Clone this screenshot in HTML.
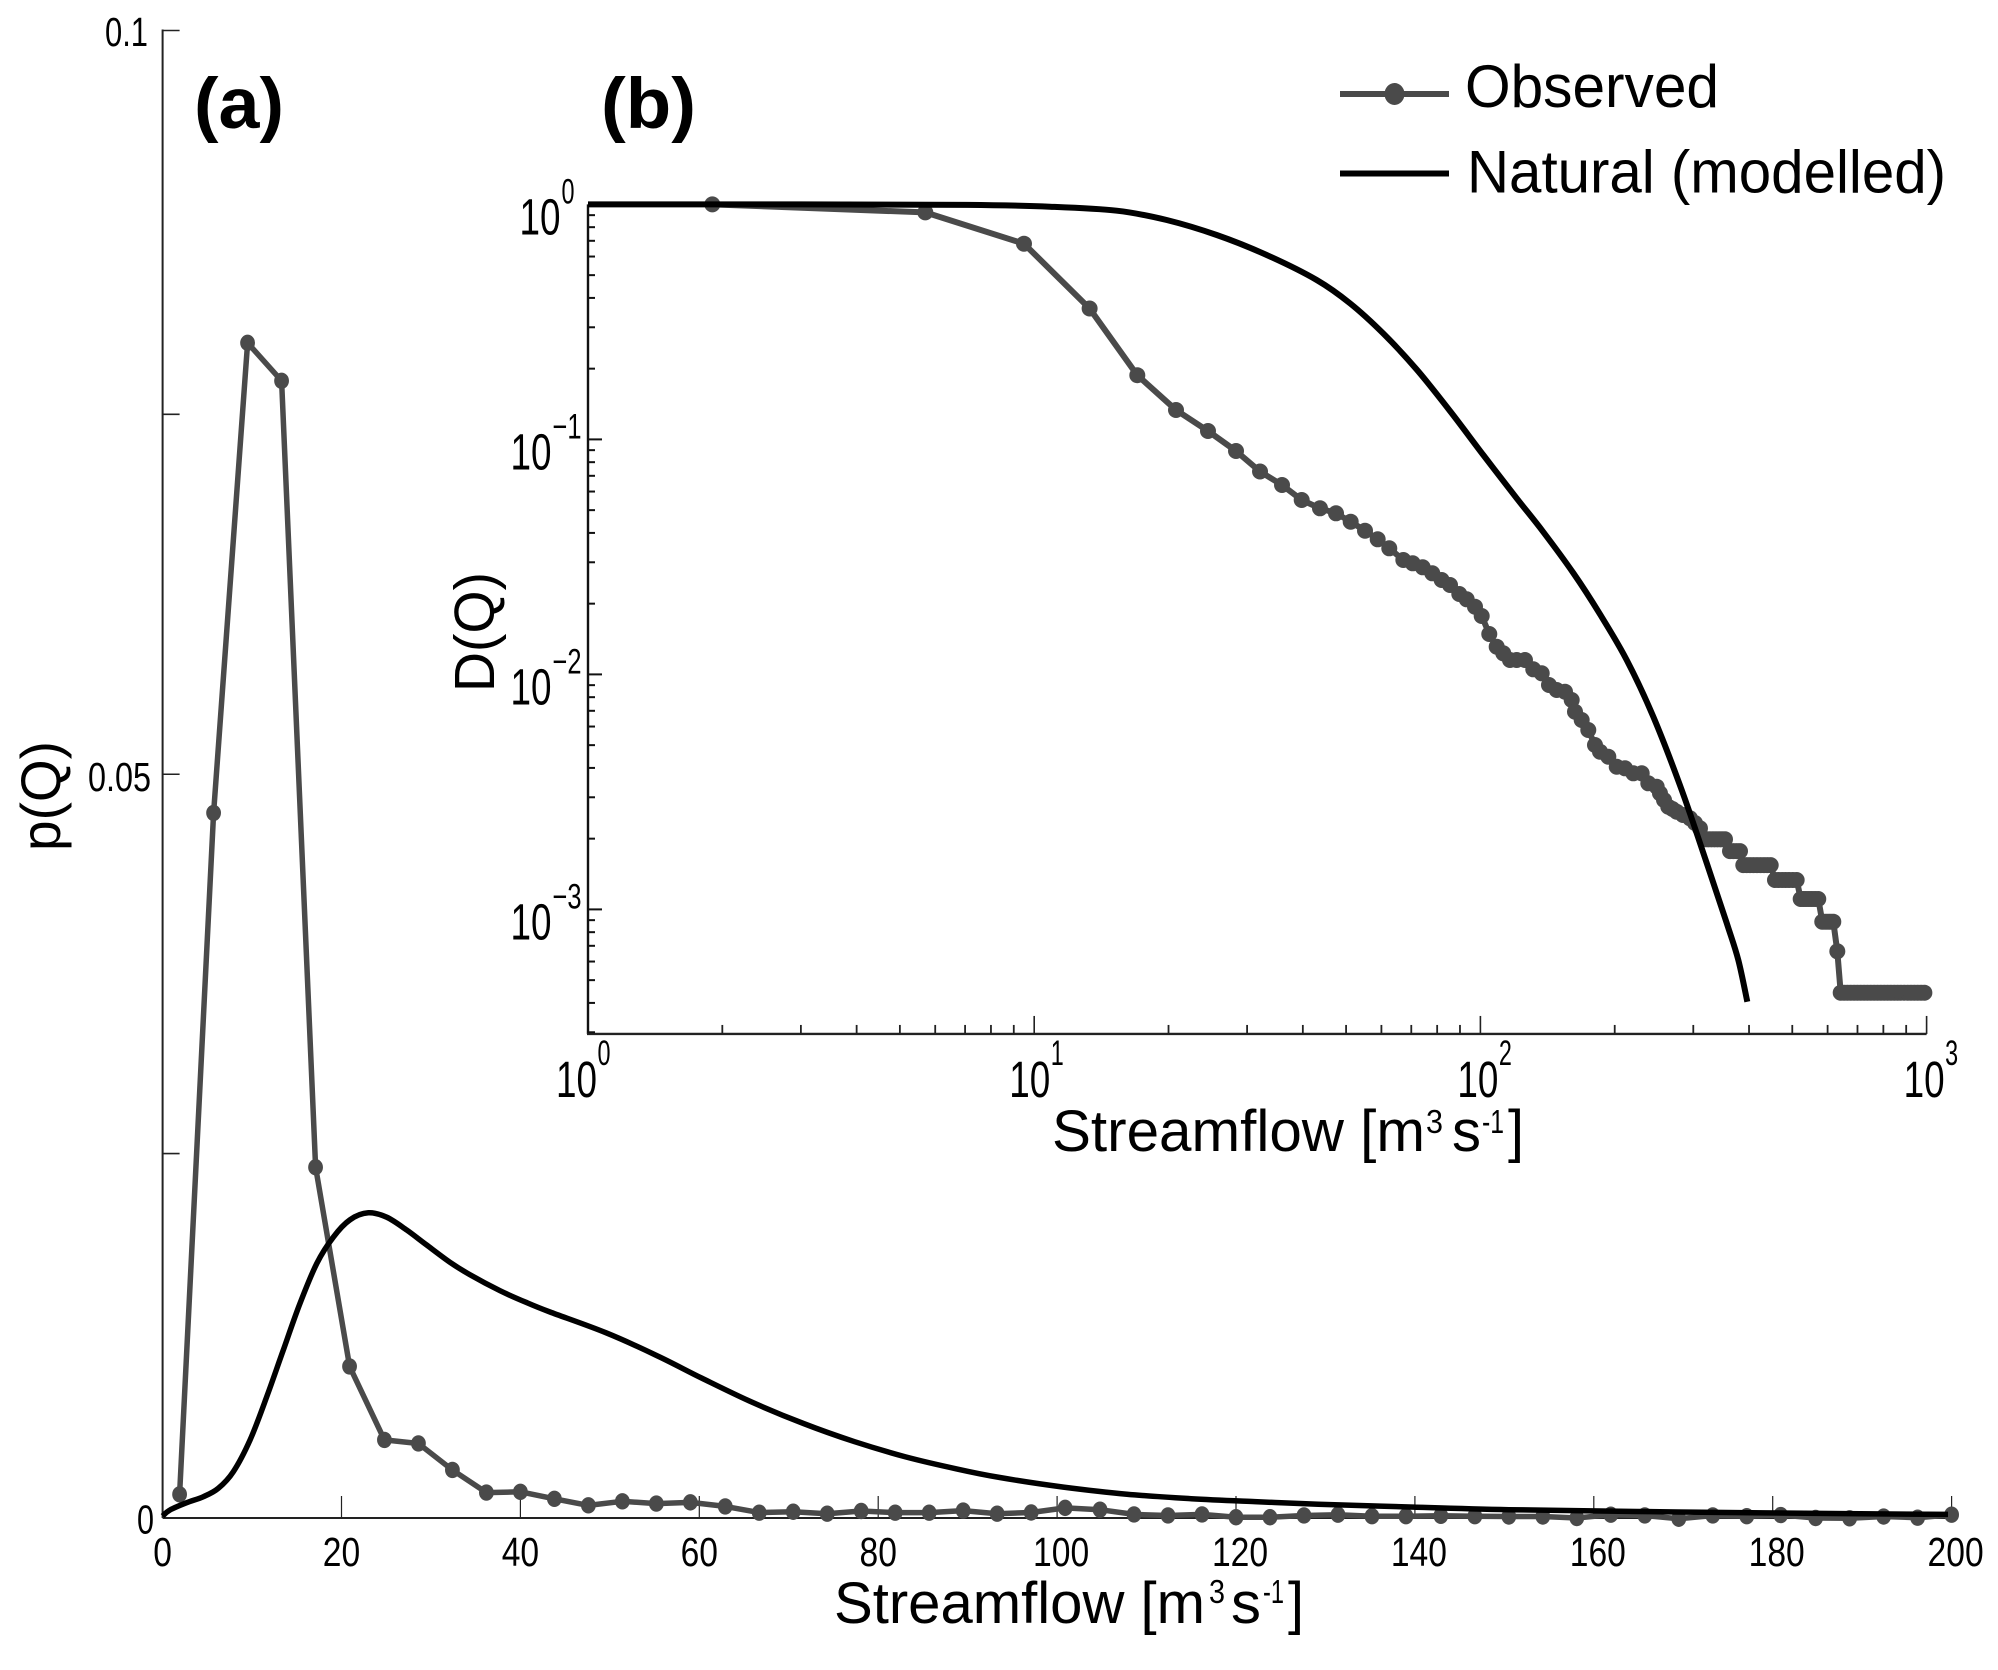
<!DOCTYPE html>
<html lang="en">
<head>
<meta charset="utf-8">
<title>Streamflow distributions</title>
<style>
  html, body { margin: 0; padding: 0; background: #fff; }
  svg { display: block; font-family: "Liberation Sans", sans-serif; fill: #000; }
  .obs-line { fill: none; stroke: #4a4a4a; stroke-linejoin: round; stroke-linecap: round; }
  .nat-line { fill: none; stroke: #000; stroke-linejoin: round; }
</style>
</head>
<body>
<svg id="chart" xmlns="http://www.w3.org/2000/svg" width="1998" height="1670" viewBox="0 0 1998 1670">
  <rect x="0" y="0" width="1998" height="1670" fill="#fff"/>

  <g id="panel-a"></g>
  <g id="panel-b"></g>

  <text x="194" y="128" font-size="71" font-weight="bold" textLength="90" lengthAdjust="spacingAndGlyphs">(a)</text>
  <text x="601" y="128" font-size="71" font-weight="bold" textLength="95" lengthAdjust="spacingAndGlyphs">(b)</text>

  <text transform="translate(60,851) rotate(-90)" font-size="56" textLength="110" lengthAdjust="spacingAndGlyphs">p(Q)</text>
  <text transform="translate(494,692) rotate(-90)" font-size="57" textLength="120" lengthAdjust="spacingAndGlyphs">D(Q)</text>

  <g>
    <text x="834" y="1623" font-size="58" textLength="371" lengthAdjust="spacingAndGlyphs">Streamflow [m</text>
    <text x="1209" y="1603" font-size="33" textLength="16" lengthAdjust="spacingAndGlyphs">3</text>
    <text x="1231" y="1623" font-size="58" textLength="30" lengthAdjust="spacingAndGlyphs">s</text>
    <text x="1263" y="1603" font-size="33" textLength="21" lengthAdjust="spacingAndGlyphs">-1</text>
    <text x="1288" y="1623" font-size="58" textLength="16" lengthAdjust="spacingAndGlyphs">]</text>
  </g>
  <g>
    <text x="1052" y="1151" font-size="58" textLength="373" lengthAdjust="spacingAndGlyphs">Streamflow [m</text>
    <text x="1426" y="1133" font-size="33" textLength="17" lengthAdjust="spacingAndGlyphs">3</text>
    <text x="1452" y="1151" font-size="58" textLength="29" lengthAdjust="spacingAndGlyphs">s</text>
    <text x="1482" y="1133" font-size="33" textLength="22" lengthAdjust="spacingAndGlyphs">-1</text>
    <text x="1508" y="1151" font-size="58" textLength="16" lengthAdjust="spacingAndGlyphs">]</text>
  </g>

  <g>
    <g>
      <line x1="1340" y1="94" x2="1449" y2="94" stroke="#4a4a4a" stroke-width="6"/>
      <ellipse cx="1394.5" cy="94" rx="10" ry="11" fill="#4a4a4a"/>
      <text x="1465" y="107" font-size="60" textLength="254" lengthAdjust="spacingAndGlyphs">Observed</text>
    </g>
    <g>
      <line x1="1340" y1="173.5" x2="1449" y2="173.5" stroke="#000" stroke-width="6"/>
      <text x="1467" y="192.5" font-size="60" textLength="479" lengthAdjust="spacingAndGlyphs">Natural (modelled)</text>
    </g>
  </g>
</svg>

<script>
// ---- Panel (a): probability density ----
const aXTicks = [0, 20, 40, 60, 80, 100, 120, 140, 160, 180, 200];
const aYTicks = [0, 0.0245, 0.05, 0.0742, 0.1];
const aYTickLabels = ["0", "", "0.05", "", "0.1"];
const aObservedQ = [1.9,5.7,9.5,13.3,17.1,20.9,24.8,28.6,32.4,36.2,40,43.8,47.6,51.4,55.2,59,62.9,66.7,70.5,74.3,78.1,81.9,85.7,89.5,93.3,97.1,100.9,104.8,108.6,112.4,116.2,120,123.8,127.6,131.4,135.2,139,142.9,146.7,150.5,154.3,158.1,161.9,165.7,169.5,173.3,177.1,180.9,184.8,188.6,192.4,196.2,200];
const aObservedP = [0.00159,0.0474,0.0790,0.07645,0.02358,0.01019,0.00525,0.00501,0.00323,0.00171,0.00176,0.00129,0.00085,0.00112,0.00097,0.00105,0.00078,0.00036,0.00042,0.00029,0.00047,0.00036,0.00036,0.0005,0.00029,0.00037,0.00068,0.00056,0.00024,0.00017,0.00024,0.00005,0.00005,0.00017,0.00022,0.00012,0.00012,0.00015,0.00012,0.0001,0.0001,0,0.00022,0.00017,-0.00005,0.00017,0.00012,0.0002,0,-0.00002,0.0001,0.00002,0.00022];
const aNaturalQ = [0,0.83,2.69,4.55,6.22,7.9,9.77,11.64,13.49,15.36,17.23,19.08,20.95,23,25.05,27.29,29.52,32.12,34.37,37.72,40.7,43.31,49.55,55.25,60.25,65.95,71.65,77.36,83.06,88.76,93.6,100.7,107.8,115,122.1,129.2,139.9,150.5,164.8,179,199.6];
const aNaturalP = [0.00013,0.00054,0.00103,0.00143,0.00199,0.00311,0.00524,0.00815,0.01129,0.01443,0.0171,0.01888,0.02005,0.02052,0.02022,0.01936,0.01835,0.0172,0.01635,0.01528,0.01448,0.01385,0.01246,0.01092,0.00941,0.00777,0.00635,0.00513,0.00411,0.0033,0.00272,0.00208,0.0016,0.0013,0.0011,0.00093,0.00073,0.00056,0.00044,0.00034,0.00024];

// ---- Panel (b): exceedance on log-log axes (values stored as log10) ----
const bXDecades = [0, 1, 2, 3];
const bYDecades = [0, -1, -2, -3];
const bMinorMultipliers = [2, 3, 4, 5, 6, 7, 8, 9];
const bObservedLogQ = [
  0.2786,0.7559,0.9771,1.1242,1.2311,1.3178,1.3895,1.4523,1.5061,1.5554,
  1.5995,1.6405,1.6764,1.7093,1.7414,1.7698,1.7958,
  1.8273,1.8483,1.8707,1.8922,1.9132,1.9319,1.9527,1.9693,1.9879,2.0029,
  2.0199,2.0365,2.0513,2.0663,2.0813,2.0999,2.1185,2.1374,2.1537,2.1710,
  2.1896,2.2046,2.2120,2.2270,2.2418,2.2568,2.2681,2.2867,2.3055,2.3241,
  2.3427,2.3615,2.3763,2.3951,2.4025,2.4115,2.4211,2.4305,2.4399,2.4540,
  2.4697,2.4809,2.4921,
  2.5071,2.5142,2.5213,2.5280,2.5348,2.5415,2.5482,
  2.5594,2.5670,2.5745,2.5818,
  2.5892,2.5967,2.6042,2.6120,2.6199,2.6278,2.6356,2.6431,2.6506,
  2.6602,2.6680,2.6759,2.6837,2.6916,2.7002,2.7088,
  2.7178,2.7237,2.7297,2.7364,2.7431,2.7501,2.7572,
  2.7662,2.7726,2.7790,2.7850,2.7909,
  2.7999,
  2.8075,2.815,2.8225,2.83,2.8375,2.845,2.8525,2.86,2.8675,2.875,2.8825,2.89,2.8975,
  2.905,2.9125,2.92,2.9275,2.935,2.9425,2.95,2.9575,2.965,2.9725,2.98,2.9875,2.995
];
const bObservedLogD = [
  0,-0.034,-0.1672,-0.443,-0.7268,-0.8749,-0.9643,-1.0494,-1.1366,-1.194,
  -1.2579,-1.2932,-1.3145,-1.3502,-1.3885,-1.4251,-1.4634,
  -1.5132,-1.5272,-1.5443,-1.5698,-1.5983,-1.6196,-1.6579,-1.6804,-1.7119,-1.7515,
  -1.8281,-1.8821,-1.9102,-1.9387,-1.9387,-1.9387,-1.9783,-1.9953,-2.0451,-2.0664,
  -2.0736,-2.1089,-2.1587,-2.194,-2.2366,-2.3004,-2.3289,-2.3502,-2.3928,-2.3996,
  -2.4209,-2.4209,-2.4634,-2.4779,-2.506,-2.5345,-2.563,-2.5728,-2.5843,-2.5983,
  -2.6123,-2.6323,-2.6549,
  -2.7017,-2.7017,-2.7017,-2.7017,-2.7017,-2.7017,-2.7017,
  -2.7519,-2.7519,-2.7519,-2.7519,
  -2.8115,-2.8115,-2.8115,-2.8115,-2.8115,-2.8115,-2.8115,-2.8115,-2.8115,
  -2.8749,-2.8749,-2.8749,-2.8749,-2.8749,-2.8749,-2.8749,
  -2.9557,-2.9557,-2.9557,-2.9557,-2.9557,-2.9557,-2.9557,
  -3.0523,-3.0523,-3.0523,-3.0523,-3.0523,
  -3.1783,
  -3.3545,-3.3545,-3.3545,-3.3545,-3.3545,-3.3545,-3.3545,-3.3545,-3.3545,-3.3545,-3.3545,-3.3545,-3.3545,
  -3.3545,-3.3545,-3.3545,-3.3545,-3.3545,-3.3545,-3.3545,-3.3545,-3.3545,-3.3545,-3.3545,-3.3545,-3.3545
];
const bNaturalLogQ = [0,0.4751,0.85,1.0354,1.1849,1.2969,1.409,1.5211,1.6331,1.7078,1.7824,1.8572,1.9319,2.0065,2.0814,2.141,2.2082,2.2681,2.3279,2.3875,2.4511,2.5071,2.5519,2.578,2.5982];
const bNaturalLogD = [0,0,-0.002,-0.0098,-0.0268,-0.0664,-0.1302,-0.2153,-0.3217,-0.4209,-0.5494,-0.7026,-0.8791,-1.0664,-1.2506,-1.394,-1.5685,-1.7438,-1.9387,-2.18,-2.4919,-2.8026,-3.0579,-3.2153,-3.3928];

const NS = 'http://www.w3.org/2000/svg';
const panelA = document.getElementById('panel-a');
const panelB = document.getElementById('panel-b');

function mk(parent, tag, attrs, text) {
  const el = document.createElementNS(NS, tag);
  for (const k in attrs) el.setAttribute(k, attrs[k]);
  if (text !== undefined) el.textContent = text;
  parent.appendChild(el);
  return el;
}
function line(parent, x1, y1, x2, y2, w, color) {
  return mk(parent, 'line', { x1, y1, x2, y2, stroke: color, 'stroke-width': w });
}
function label(parent, x, y, str, fs, len, anchor) {
  return mk(parent, 'text', { x, y, 'font-size': fs, 'text-anchor': anchor, textLength: len, lengthAdjust: 'spacingAndGlyphs' }, str);
}
// Catmull-Rom smoothing through the read points
function smoothPath(pts) {
  let d = 'M' + pts[0][0].toFixed(1) + ' ' + pts[0][1].toFixed(1);
  for (let i = 0; i < pts.length - 1; i++) {
    const p0 = pts[Math.max(i - 1, 0)], p1 = pts[i], p2 = pts[i + 1], p3 = pts[Math.min(i + 2, pts.length - 1)];
    const c1x = p1[0] + (p2[0] - p0[0]) / 6, c1y = p1[1] + (p2[1] - p0[1]) / 6;
    const c2x = p2[0] - (p3[0] - p1[0]) / 6, c2y = p2[1] - (p3[1] - p1[1]) / 6;
    d += ' C' + c1x.toFixed(1) + ' ' + c1y.toFixed(1) + ' ' + c2x.toFixed(1) + ' ' + c2y.toFixed(1) + ' ' + p2[0].toFixed(1) + ' ' + p2[1].toFixed(1);
  }
  return d;
}

// Axis functions
const ax = v => 162.6 + 8.945 * v;
const ay = v => 1518 - 14875 * v;
const bx = v => 588 + 446.2 * v;
const by = v => 204.4 - 235 * v;

// ---------- Panel (a) axes ----------
const aYAxis = line(panelA, ax(0), ay(0.1) - 1, ax(0), ay(0), 2, '#222');


const aXAxis = line(panelA, ax(0), ay(0), ax(200), ay(0), 2, '#222');



aXTicks.forEach(t => {
  if (t > 0) {
    const tick = line(panelA, ax(t), ay(0), ax(t), ay(0) - 22, 1.2, '#222');
    
    
  }
  const s = String(t);
  const lab = label(panelA, ax(t) + (s.length === 3 ? 4 : 0), 1566, s, 41, s.length * 18.7, 'middle');
  
  
});

aYTicks.forEach((t, i) => {
  if (t > 0) {
    const tick = line(panelA, ax(0), ay(t), ax(0) + 17, ay(t), 1.6, '#222');
    
    
  }
  const s = aYTickLabels[i];
  if (s) {
    const len = s === '0' ? 17 : (s === '0.1' ? 43 : 63);
    const lab = label(panelA, t === 0 ? 154 : (t === 0.05 ? 151 : 148), ay(t) + (t === 0.05 ? 16.5 : 15.5), s, 41, len, 'end');
    
    
  }
});

// ---------- Panel (a) series ----------
const aObsLine = mk(panelA, 'polyline', {
  class: 'obs-line', 'stroke-width': 5.5,
  points: aObservedQ.map((q, i) => ax(q).toFixed(1) + ',' + ay(aObservedP[i]).toFixed(1)).join(' ')
});


aObservedQ.forEach((q, i) => {
  const pt = mk(panelA, 'ellipse', { cx: ax(q), cy: ay(aObservedP[i]), rx: 7.4, ry: 8.2, fill: '#4a4a4a' });
  
  
});
const aNatLine = mk(panelA, 'path', {
  class: 'nat-line', 'stroke-width': 5.5,
  d: smoothPath(aNaturalQ.map((q, i) => [ax(q), ay(aNaturalP[i])]))
});



// ---------- Panel (b) axes ----------
const bYAxis = line(panelB, bx(0), by(0), bx(0), by(-3.53), 2.4, '#111');


const bXAxis = line(panelB, bx(0) - 1, by(-3.53), bx(3), by(-3.53), 2.4, '#222');



bXDecades.forEach(e => {
  if (e > 0) {
    const tick = line(panelB, bx(e), by(-3.53), bx(e), by(-3.53) - 18, 1.6, '#222');
    
    
  }
  if (e < 3) {
    bMinorMultipliers.forEach(m => {
      const v = e + Math.log10(m);
      const minor = line(panelB, bx(v), by(-3.53), bx(v), by(-3.53) - 9, 1.8, '#222');
      
      
    });
  }
  const cx = bx(e) - (e === 0 ? 11.5 : (e === 1 ? 4.5 : 2.5));
  const base = label(panelB, cx, 1097, '10', 51, 41, 'middle');
  
  
  const sup = label(panelB, cx + 21, 1065, String(e), 35, 13, 'start');
  
  
});

bYDecades.forEach(e => {
  if (e < 0) {
    const tick = line(panelB, bx(0), by(e), bx(0) + 14, by(e), 2, '#111');
    
    
  }
  bMinorMultipliers.forEach(m => {
    const v = e - 1 + Math.log10(m);
    if (v >= -3.53) {
      const minor = line(panelB, bx(0), by(v), bx(0) + 7, by(v), 2, '#111');
      
      
    }
  });
  const right = e === 0 ? 560.5 : 551.5;
  const base = label(panelB, right, by(e) + 30, '10', 51, 41, 'end');
  
  
  const supStr = e === 0 ? '0' : '\u2212' + Math.abs(e);
  const sup = label(panelB, right + 1, by(e) - 1, supStr, 35, e === 0 ? 13 : 29, 'start');
  
  
});

// ---------- Panel (b) series ----------
const bObsLine = mk(panelB, 'polyline', {
  class: 'obs-line', 'stroke-width': 6,
  points: bObservedLogQ.map((q, i) => bx(q).toFixed(1) + ',' + by(bObservedLogD[i]).toFixed(1)).join(' ')
});


bObservedLogQ.forEach((q, i) => {
  const pt = mk(panelB, 'circle', { cx: bx(q), cy: by(bObservedLogD[i]), r: 8, fill: '#4a4a4a' });
  
  
});
const bNatLine = mk(panelB, 'path', {
  class: 'nat-line', 'stroke-width': 6,
  d: smoothPath(bNaturalLogQ.map((q, i) => [bx(q), by(bNaturalLogD[i])]))
});


</script>
</body>
</html>
